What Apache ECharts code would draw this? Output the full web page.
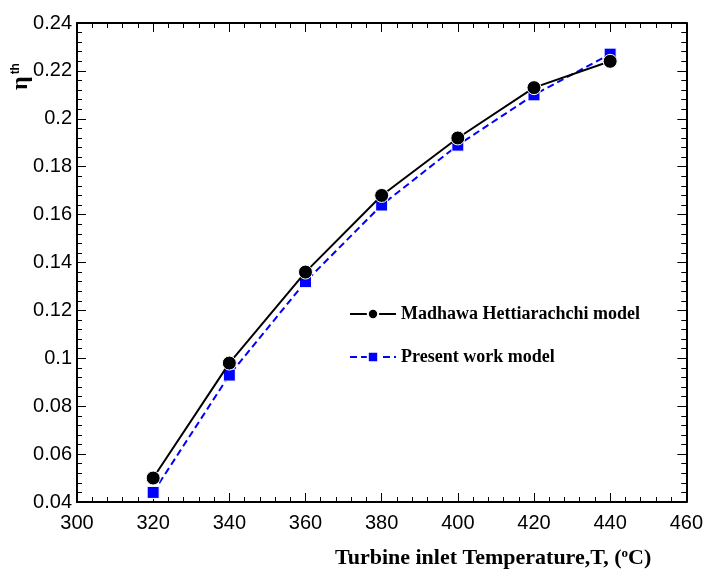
<!DOCTYPE html>
<html>
<head>
<meta charset="utf-8">
<script src="https://cdn.jsdelivr.net/npm/echarts@6/dist/echarts.min.js"></script>
<style>html,body{margin:0;padding:0;background:#fff}#main{width:706px;height:572px}</style>
</head>
<body>
<div id="main"></div>
<script>
const temps = [320, 340, 360, 380, 400, 420, 440];
const madhawa = [0.050, 0.098, 0.136, 0.168, 0.192, 0.213, 0.224];
const present = [0.044, 0.093, 0.132, 0.164, 0.189, 0.210, 0.227];
const seriesNames = ['Madhawa Hettiarachchi model', 'Present work model'];

const pair = (ys) => temps.map((t, i) => [t, ys[i]]);

const axisBase = {
    axisLine: { show: true, onZero: false, lineStyle: { color: '#000', width: 2 } },
    axisTick: { show: true, inside: true, length: 9, lineStyle: { color: '#000', width: 1 } },
    minorTick: { show: true, splitNumber: 5, length: 5, lineStyle: { color: '#000', width: 1 } },
    splitLine: { show: false }
};
const xRange = { type: 'value', min: 300, max: 460, interval: 20 };
const yRange = { type: 'value', min: 0.04, max: 0.24, interval: 0.02 };
const labelStyle = { color: '#000', fontSize: 20, fontFamily: 'Liberation Sans' };

const option = {
    animation: false,
    grid: { left: 77, right: 18, top: 23, bottom: 70 },
    xAxis: [
        Object.assign({}, xRange, axisBase, { position: 'bottom',
            axisLabel: Object.assign({ margin: 11 }, labelStyle) }),
        Object.assign({}, xRange, axisBase, { position: 'top', axisLabel: { show: false } })
    ],
    yAxis: [
        Object.assign({}, yRange, axisBase, { position: 'left',
            axisLabel: Object.assign({ margin: 5, formatter: v => String(+v.toFixed(2)) }, labelStyle) }),
        Object.assign({}, yRange, axisBase, { position: 'right', axisLabel: { show: false } })
    ],
    legend: {
        orient: 'vertical',
        left: 344, top: 300,
        itemWidth: 46, itemHeight: 13, itemGap: 25,
        textStyle: { color: '#000', fontSize: 18, fontWeight: 'bold', fontFamily: 'Liberation Serif' },
        data: seriesNames
    },
    graphic: [
        {
            type: 'text', left: 335, top: 547,
            style: {
                text: 'Turbine inlet Temperature,T, ({sup|o}C)',
                rich: { sup: { fontSize: 13, verticalAlign: 'top', padding: [0, 0, 9, 0], fontWeight: 'bold', fontFamily: 'Liberation Serif', fill: '#000' } },
                fill: '#000', fontSize: 22, fontWeight: 'bold', fontFamily: 'Liberation Serif'
            }
        },
        {
            type: 'text', x: 9, y: 90, rotation: Math.PI / 2,
            style: {
                text: '{eta|η}{sup|th}',
                rich: {
                    eta: { fontSize: 24, fontWeight: 'bold', fontFamily: 'Liberation Serif', fill: '#000' },
                    sup: { fontSize: 12, fontWeight: 'bold', fontFamily: 'Liberation Sans', fill: '#000', padding: [0, 0, 10, 2] }
                }
            }
        }
    ],
    series: [
        {
            name: seriesNames[0], type: 'line',
            data: pair(madhawa),
            symbol: 'circle', symbolSize: 14,
            lineStyle: { color: '#000', width: 2 },
            itemStyle: { color: '#000', borderColor: '#fff', borderWidth: 1 },
            z: 3
        },
        {
            name: seriesNames[1], type: 'line',
            data: pair(present),
            symbol: 'rect', symbolSize: 12,
            lineStyle: { color: '#0000ff', width: 2, type: [7, 4] },
            itemStyle: { color: '#0000ff', borderColor: '#fff', borderWidth: 1 },
            z: 2
        }
    ]
};

const chart = echarts.init(document.getElementById('main'));
chart.setOption(option);
</script>
</body>
</html>
